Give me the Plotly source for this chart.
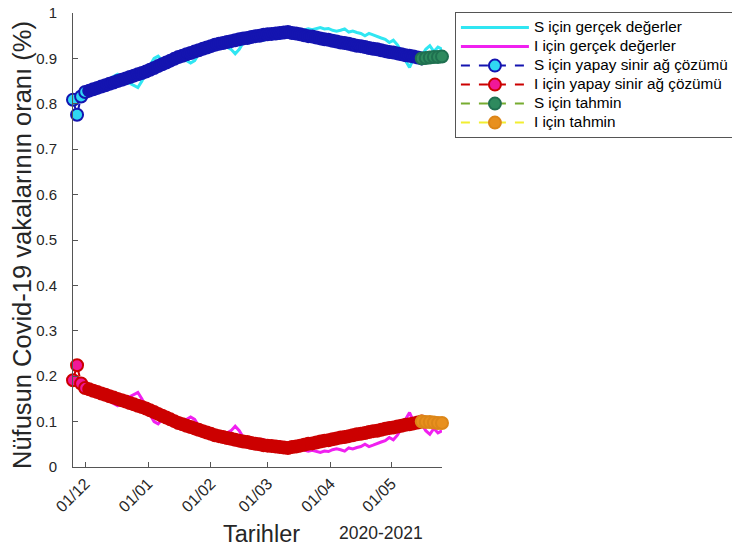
import pandas as pd
import plotly.graph_objects as go

# ---------------- data ----------------
start_date = "2020-11-25"

# real (observed) values, every 2 days from start
real_days = list(range(0, 183, 2))
S_real = [0.815, 0.81, 0.82, 0.825, 0.83, 0.832, 0.838, 0.84, 0.835, 0.852,
          0.86, 0.865, 0.855, 0.85, 0.845, 0.84, 0.836, 0.85, 0.87, 0.885,
          0.9, 0.905, 0.895, 0.89, 0.905, 0.895, 0.9, 0.905, 0.895, 0.89,
          0.895, 0.91, 0.92, 0.925, 0.93, 0.925, 0.935, 0.93, 0.925, 0.92,
          0.91, 0.92, 0.935, 0.94, 0.945, 0.95, 0.945, 0.94, 0.945, 0.948,
          0.946, 0.944, 0.95, 0.955, 0.958, 0.955, 0.96, 0.962, 0.965, 0.963,
          0.966, 0.968, 0.965, 0.966, 0.962, 0.96, 0.962, 0.965, 0.958, 0.96,
          0.957, 0.955, 0.95, 0.955, 0.952, 0.948, 0.945, 0.942, 0.935, 0.94,
          0.93, 0.915, 0.895, 0.88, 0.9, 0.91, 0.905, 0.92, 0.928, 0.915,
          0.925, 0.92]
I_real = [0.185, 0.19, 0.18, 0.175, 0.17, 0.168, 0.162, 0.16, 0.165, 0.148,
          0.14, 0.135, 0.145, 0.15, 0.155, 0.16, 0.164, 0.15, 0.13, 0.115,
          0.10, 0.095, 0.105, 0.11, 0.095, 0.105, 0.10, 0.095, 0.105, 0.11,
          0.105, 0.09, 0.08, 0.075, 0.07, 0.075, 0.065, 0.07, 0.075, 0.08,
          0.09, 0.08, 0.065, 0.06, 0.055, 0.05, 0.055, 0.06, 0.055, 0.052,
          0.054, 0.056, 0.05, 0.045, 0.042, 0.045, 0.04, 0.038, 0.035, 0.037,
          0.034, 0.032, 0.035, 0.034, 0.038, 0.04, 0.038, 0.035, 0.042, 0.04,
          0.043, 0.045, 0.05, 0.045, 0.048, 0.052, 0.055, 0.058, 0.065, 0.06,
          0.07, 0.085, 0.105, 0.12, 0.10, 0.09, 0.095, 0.08, 0.072, 0.085,
          0.075, 0.08]

# neural network solution, every 2 days
nn_days = list(range(0, 173, 2))
S_nn = [0.809, 0.776, 0.816, 0.826, 0.829, 0.832, 0.835, 0.838, 0.841, 0.844,
        0.847, 0.850, 0.853, 0.856, 0.859, 0.862, 0.865, 0.868, 0.871, 0.875,
        0.879, 0.883, 0.887, 0.891, 0.895, 0.899, 0.903, 0.906, 0.909, 0.912,
        0.915, 0.918, 0.921, 0.924, 0.927, 0.930, 0.932, 0.934, 0.936, 0.938,
        0.940, 0.942, 0.944, 0.945, 0.947, 0.949, 0.950, 0.952, 0.953, 0.954,
        0.955, 0.956, 0.957, 0.958, 0.956, 0.955, 0.953, 0.951, 0.949, 0.948,
        0.946, 0.944, 0.942, 0.941, 0.939, 0.937, 0.935, 0.934, 0.932, 0.930,
        0.928, 0.927, 0.925, 0.923, 0.921, 0.920, 0.918, 0.916, 0.914, 0.913,
        0.911, 0.909, 0.907, 0.906, 0.904, 0.902, 0.900]
I_nn = [0.191, 0.224, 0.184, 0.174, 0.171, 0.168, 0.165, 0.162, 0.159, 0.156,
        0.153, 0.150, 0.147, 0.144, 0.141, 0.138, 0.135, 0.132, 0.129, 0.125,
        0.121, 0.117, 0.113, 0.109, 0.105, 0.101, 0.097, 0.094, 0.091, 0.088,
        0.085, 0.082, 0.079, 0.076, 0.073, 0.070, 0.068, 0.066, 0.064, 0.062,
        0.060, 0.058, 0.056, 0.055, 0.053, 0.051, 0.050, 0.048, 0.047, 0.046,
        0.045, 0.044, 0.043, 0.042, 0.044, 0.045, 0.047, 0.049, 0.051, 0.052,
        0.054, 0.056, 0.058, 0.059, 0.061, 0.063, 0.065, 0.066, 0.068, 0.070,
        0.072, 0.073, 0.075, 0.077, 0.079, 0.080, 0.082, 0.084, 0.086, 0.087,
        0.089, 0.091, 0.093, 0.094, 0.096, 0.098, 0.100]

# forecast
fc_days = list(range(172, 183, 2))
S_fc = [0.900, 0.901, 0.902, 0.903, 0.903, 0.904]
I_fc = [0.100, 0.099, 0.099, 0.098, 0.097, 0.097]

tick_dates = ["2020-12-01", "2021-01-01", "2021-02-01", "2021-03-01", "2021-04-01", "2021-05-01"]
tick_labels = ["01/12", "01/01", "01/02", "01/03", "01/04", "01/05"]
y_ticks = [0, 0.1, 0.2, 0.3, 0.4, 0.5, 0.6, 0.7, 0.8, 0.9, 1]
y_labels = ["0", "0.1", "0.2", "0.3", "0.4", "0.5", "0.6", "0.7", "0.8", "0.9", "1"]

names = ["S için gerçek değerler", "I için gerçek değerler",
         "S için yapay sinir ağ çözümü", "I için yapay sinir ağ çözümü",
         "S için tahmin", "I için tahmin"]

t0 = pd.Timestamp(start_date)
def to_dates(days):
    return [t0 + pd.Timedelta(days=d) for d in days]

FONT = "Liberation Sans, Arial, Helvetica, sans-serif"
S_EDGE, S_FILL = "#1414b0", "#30d8f2"
I_EDGE, I_FILL = "#cc0000", "#f01898"
N_OPEN = 4  # first few early circles show their light fill

def fills(n, light, dark):
    return [light if i < N_OPEN else dark for i in range(n)]

def lname(s):
    return '<span style="font-size:15.3px">' + s + '</span>'

fig = go.Figure()
fig.add_trace(go.Scatter(x=to_dates(real_days), y=S_real, mode="lines", name=lname(names[0]),
                         line=dict(color="#30e6f2", width=3)))
fig.add_trace(go.Scatter(x=to_dates(real_days), y=I_real, mode="lines", name=lname(names[1]),
                         line=dict(color="#f020f0", width=3)))
fig.add_trace(go.Scatter(x=to_dates(nn_days), y=S_nn, mode="lines+markers", name=lname(names[2]),
                         line=dict(color=S_EDGE, width=2, dash="dash"),
                         marker=dict(symbol="circle", size=12, color=fills(len(S_nn), S_FILL, S_EDGE),
                                     line=dict(color=S_EDGE, width=2)),
                         cliponaxis=False))
fig.add_trace(go.Scatter(x=to_dates(nn_days), y=I_nn, mode="lines+markers", name=lname(names[3]),
                         line=dict(color=I_EDGE, width=2, dash="dash"),
                         marker=dict(symbol="circle", size=12, color=fills(len(I_nn), I_FILL, I_EDGE),
                                     line=dict(color=I_EDGE, width=2)),
                         cliponaxis=False))
fig.add_trace(go.Scatter(x=to_dates(fc_days), y=S_fc, mode="lines+markers", name=lname(names[4]),
                         line=dict(color="#77ac30", width=2, dash="dash"),
                         marker=dict(symbol="circle", size=12, color="#2e8a5e",
                                     line=dict(color="#1f7050", width=2)),
                         cliponaxis=False))
fig.add_trace(go.Scatter(x=to_dates(fc_days), y=I_fc, mode="lines+markers", name=lname(names[5]),
                         line=dict(color="#f2ee30", width=2, dash="dash"),
                         marker=dict(symbol="circle", size=12, color="#e8901e",
                                     line=dict(color="#dc8618", width=2)),
                         cliponaxis=False))

fig.update_layout(
    width=732, height=550,
    margin=dict(l=73, r=290, t=13, b=83, pad=0, autoexpand=False),
    plot_bgcolor="white", paper_bgcolor="white",
    font=dict(family=FONT, color="#262626"),
    showlegend=True,
    legend=dict(x=1.035, y=1.002, xanchor="left", yanchor="top",
                font=dict(size=12, family=FONT, color="#000000"),
                bordercolor="#555555", borderwidth=1, bgcolor="white",
                tracegroupgap=0, itemwidth=68),
    xaxis=dict(type="date", range=[t0, t0 + pd.Timedelta(days=182)],
               tickvals=[pd.Timestamp(d) for d in tick_dates], ticktext=tick_labels,
               tickangle=-45, tickfont=dict(size=16, family=FONT, color="#262626"),
               showgrid=False, zeroline=False, showline=True, linecolor="#555555", linewidth=1,
               ticks="inside", ticklen=5, tickcolor="#555555", automargin=False),
    yaxis=dict(range=[0, 1], tickvals=y_ticks, ticktext=y_labels,
               tickfont=dict(size=15, family=FONT, color="#262626"),
               ticklabelstandoff=12, automargin=False,
               showgrid=False, zeroline=False, showline=True, linecolor="#555555", linewidth=1,
               ticks="inside", ticklen=5, tickcolor="#555555"),
    annotations=[
        dict(text="Nüfusun Covid-19 vakalarının oranı (%)", textangle=-90,
             xref="paper", yref="paper", x=-0.1382, y=0.489, xanchor="center", yanchor="middle",
             showarrow=False, font=dict(size=25.5, family=FONT, color="#262626")),
        dict(text="Tarihler", xref="paper", yref="paper", x=0.5095, y=-0.1476,
             xanchor="center", yanchor="middle", showarrow=False,
             font=dict(size=23.5, family=FONT, color="#262626")),
        dict(text="2020-2021", xref="paper", yref="paper", x=0.8347, y=-0.1454,
             xanchor="center", yanchor="middle", showarrow=False,
             font=dict(size=17.5, family=FONT, color="#262626")),
    ],
)

fig.write_html("out.html")
